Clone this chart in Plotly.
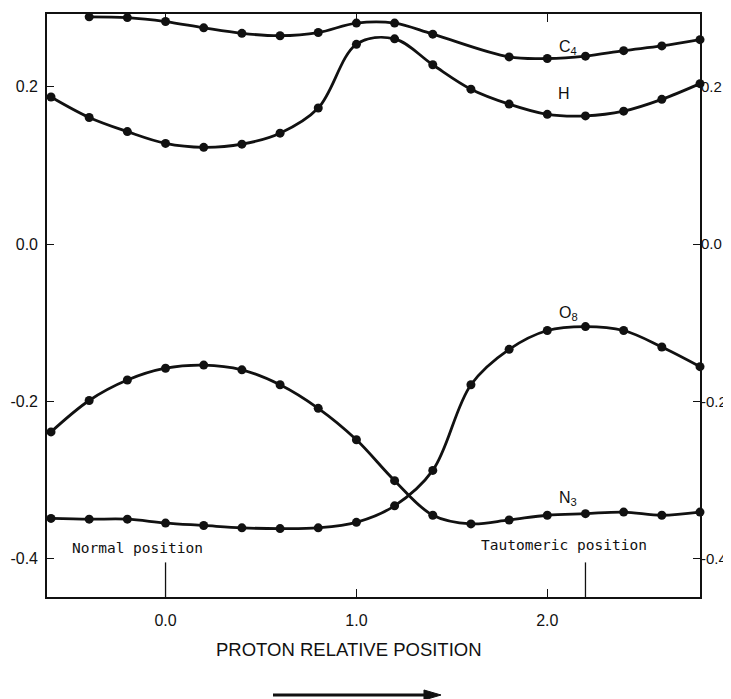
import plotly.graph_objects as go

# ---- data ----
x_c4 = [-0.4, -0.2, 0.0, 0.2, 0.4, 0.6, 0.8, 1.0, 1.2, 1.4, 1.8, 2.0, 2.2, 2.4, 2.6, 2.8]
y_c4 = [0.289, 0.288, 0.283, 0.275, 0.268, 0.265, 0.269, 0.281, 0.281, 0.267, 0.238, 0.236, 0.239, 0.246, 0.252, 0.260]

x_h = [-0.6, -0.4, -0.2, 0.0, 0.2, 0.4, 0.6, 0.8, 1.0, 1.2, 1.4, 1.6, 1.8, 2.0, 2.2, 2.4, 2.6, 2.8]
y_h = [0.187, 0.161, 0.143, 0.128, 0.123, 0.127, 0.141, 0.173, 0.254, 0.261, 0.228, 0.197, 0.178, 0.165, 0.163, 0.169, 0.184, 0.204]

x_o8 = [-0.6, -0.4, -0.2, 0.0, 0.2, 0.4, 0.6, 0.8, 1.0, 1.2, 1.4, 1.6, 1.8, 2.0, 2.2, 2.4, 2.6, 2.8]
y_o8 = [-0.349, -0.350, -0.350, -0.355, -0.358, -0.361, -0.362, -0.361, -0.354, -0.333, -0.288, -0.179, -0.134, -0.110, -0.105, -0.110, -0.131, -0.156]

x_n3 = [-0.6, -0.4, -0.2, 0.0, 0.2, 0.4, 0.6, 0.8, 1.0, 1.2, 1.4, 1.6, 1.8, 2.0, 2.2, 2.4, 2.6, 2.8]
y_n3 = [-0.239, -0.199, -0.173, -0.158, -0.154, -0.160, -0.179, -0.209, -0.249, -0.301, -0.345, -0.356, -0.351, -0.345, -0.343, -0.341, -0.345, -0.341]

curve_labels = ["C<sub>4</sub>", "H", "O<sub>8</sub>", "N<sub>3</sub>"]
curve_label_x = [2.11, 2.09, 2.11, 2.11]
curve_label_y = [0.250, 0.191, -0.088, -0.324]

position_labels = ["Normal position", "Tautomeric position"]
position_label_x = [-0.147, 2.087]
position_label_y = [-0.387, -0.383]
position_marks = [0.0, 2.2]

x_ticks = [0.0, 1.0, 2.0]
x_ticktext = ["0.0", "1.0", "2.0"]
y_ticks = [0.2, 0.0, -0.2, -0.4]
y_ticktext = ["0.2", "0.0", "-0.2", "-0.4"]

x_range = [-0.621, 2.8]
y_range = [-0.449, 0.2926]

INK = "#111111"
SANS = "Liberation Sans, Arial, sans-serif"
MONO = "DejaVu Sans Mono, Liberation Mono, monospace"

fig = go.Figure()
for name, xs, ys in [("C4", x_c4, y_c4), ("H", x_h, y_h), ("O8", x_o8, y_o8), ("N3", x_n3, y_n3)]:
    fig.add_trace(go.Scatter(
        x=xs, y=ys, name=name, mode="lines+markers",
        line=dict(color=INK, width=2.8, shape="spline", smoothing=1.0),
        marker=dict(color=INK, size=9),
        cliponaxis=False, showlegend=False,
    ))

# invisible trace for the right-hand axis
fig.add_trace(go.Scatter(x=[x_range[0]], y=[0], yaxis="y2", mode="markers",
                         marker=dict(opacity=0), showlegend=False, hoverinfo="skip"))

for t, xx, yy in zip(curve_labels, curve_label_x, curve_label_y):
    fig.add_annotation(x=xx, y=yy, text=t, showarrow=False,
                       font=dict(family=SANS, size=16, color=INK))

for t, xx, yy in zip(position_labels, position_label_x, position_label_y):
    fig.add_annotation(x=xx, y=yy, text=t, showarrow=False,
                       font=dict(family=MONO, size=14.5, color=INK))

for xm in position_marks:
    fig.add_shape(type="line", x0=xm, x1=xm, y0=-0.405, y1=y_range[0],
                  xref="x", yref="y", line=dict(color=INK, width=1.3))

# axis title and arrow (arrow drawn as a shaft plus a filled head)
fig.add_annotation(x=0.4625, y=-0.1115, xref="paper", yref="paper",
                   text="PROTON RELATIVE POSITION", showarrow=False,
                   font=dict(family=SANS, size=18.5, color=INK))
arrow_y = -0.1681
fig.add_shape(type="line", xref="paper", yref="paper",
              x0=0.3461, x1=0.58, y0=arrow_y, y1=arrow_y,
              line=dict(color=INK, width=3))
fig.add_shape(type="path", xref="paper", yref="paper",
              path=f"M 0.5773 {arrow_y + 0.0086} L 0.6034 {arrow_y} L 0.5773 {arrow_y - 0.0086} Z",
              fillcolor=INK, line=dict(color=INK, width=1))

axis_font = dict(family=SANS, size=16, color=INK)
# the page body adds an 8px margin, so the figure is 8px smaller and margins shifted
fig.update_layout(
    width=723, height=691,
    margin=dict(l=39, r=31, t=6, b=102, autoexpand=False),
    paper_bgcolor="white", plot_bgcolor="white",
    xaxis=dict(range=x_range, tickvals=x_ticks, ticktext=x_ticktext,
               ticks="inside", ticklen=8, tickwidth=1.3, tickcolor=INK,
               showline=True, linecolor=INK, linewidth=2.2, mirror="ticks",
               showgrid=False, zeroline=False, tickfont=axis_font,
               ticklabelstandoff=8, automargin=False),
    yaxis=dict(range=y_range, tickvals=y_ticks, ticktext=y_ticktext,
               ticks="inside", ticklen=7, tickwidth=1.3, tickcolor=INK,
               showline=True, linecolor=INK, linewidth=1.6, mirror="ticks",
               showgrid=False, zeroline=False, tickfont=axis_font,
               ticklabelstandoff=4, automargin=False),
    yaxis2=dict(range=y_range, tickvals=y_ticks, ticktext=y_ticktext,
                overlaying="y", side="right", anchor="x",
                ticks="", showline=False, showgrid=False, zeroline=False,
                tickfont=dict(family=SANS, size=15, color=INK),
                ticklabelstandoff=0, automargin=False),
)

fig.write_html("out.html")
